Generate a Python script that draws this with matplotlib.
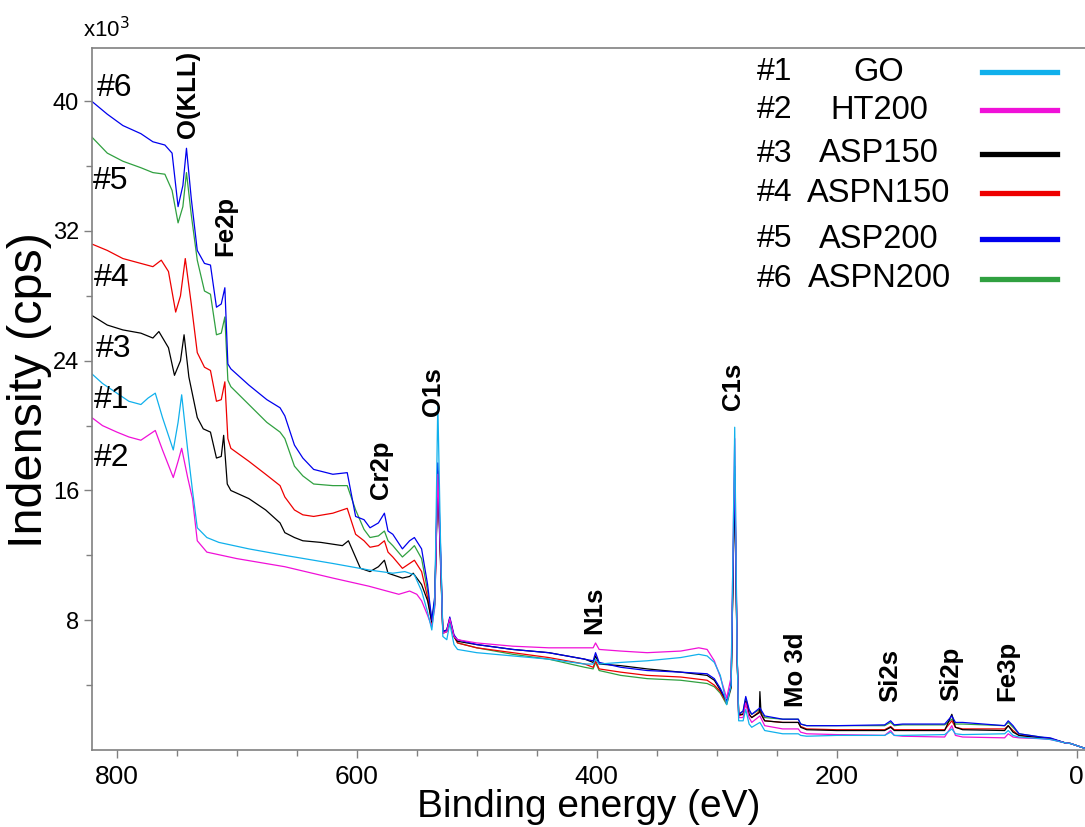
import matplotlib
matplotlib.use("Agg")
import matplotlib.pyplot as plt
from matplotlib.ticker import FixedLocator, MultipleLocator

plt.rcParams['font.family'] = ['Liberation Sans', 'DejaVu Sans']

# ---------------- data (binding energy in eV, intensity in 10^3 cps) ----------------
e_go = [821, 812, 800, 790, 780, 774, 768, 762, 753, 749, 746, 741, 737, 733, 725, 715, 690, 660, 620, 590,
        570, 560, 552, 546, 541, 537.5, 535, 532.5, 530, 528.3, 525, 522.5, 519, 516, 500, 470, 440, 410, 403,
        401, 398, 380, 358, 330, 315, 308, 302, 297, 291.7, 288, 285, 283, 281.7, 278, 275.8, 273, 270.8, 264,
        260, 245, 232, 230, 225, 200, 160, 155, 152, 145, 110, 104, 101, 95, 60, 57, 53, 48, 30, 22, 10, 5, -7]
i_go = [23.2, 22.6, 22.0, 21.5, 21.3, 21.7, 22.0, 20.5, 18.5, 20.2, 21.9, 18.5, 16.0, 13.7, 13.1, 12.8, 12.4,
        12.0, 11.5, 11.1, 10.9, 11.0, 10.8, 9.8, 8.5, 7.4, 9.0, 21.4, 12.0, 7.0, 6.8, 7.8, 6.5, 6.2, 6.0, 5.8,
        5.6, 5.3, 5.3, 5.6, 5.3, 5.4, 5.5, 5.7, 5.9, 5.8, 5.4, 4.6, 2.8, 4.0, 19.9, 6.0, 1.8, 1.8, 2.5, 1.6, 1.4,
        1.7, 1.2, 1.0, 1.0, 0.9, 0.85, 0.9, 0.9, 1.1, 0.9, 0.9, 0.95, 1.3, 1.0, 0.95, 1.0, 1.2, 0.9, 0.8, 0.7,
        0.65, 0.45, 0.4, 0.1]

e_ht200 = [821, 812, 800, 790, 780, 774, 768, 762, 753, 749, 746, 741, 737, 733, 725, 700, 660, 620, 590, 565,
           556, 550, 546, 541, 537.5, 535, 532.5, 530, 528.3, 525, 522.5, 519, 516, 500, 470, 440, 410, 403, 401,
           398, 380, 358, 330, 315, 308, 302, 297, 291.7, 288, 285, 283, 281.7, 278, 275.8, 273, 270.8, 264, 260,
           245, 232, 230, 225, 200, 160, 155, 152, 145, 110, 104, 101, 95, 60, 57, 53, 48, 30, 22, 10, 5, -7]
i_ht200 = [20.5, 20.0, 19.6, 19.3, 19.1, 19.4, 19.7, 18.5, 16.8, 17.8, 18.6, 16.8, 15.5, 12.9, 12.2, 11.8,
           11.3, 10.6, 10.1, 9.6, 9.8, 9.6, 9.2, 8.3, 7.6, 8.8, 17.0, 11.5, 7.2, 7.3, 8.1, 7.0, 6.8, 6.6, 6.4,
           6.3, 6.3, 6.3, 6.6, 6.2, 6.1, 6.0, 6.1, 6.3, 6.2, 5.5, 4.5, 3.2, 4.5, 19.2, 6.0, 2.0, 2.0, 2.9, 2.0,
           1.7, 2.1, 1.5, 1.3, 1.3, 1.1, 1.0, 0.95, 0.9, 1.2, 0.9, 0.85, 0.8, 1.5, 0.9, 0.8, 0.75, 1.0, 0.8,
           0.75, 0.7, 0.65, 0.45, 0.4, 0.1]

e_asp150 = [821, 808, 795, 780, 770, 765, 757, 752, 747, 744, 740, 733, 728, 722, 717, 713, 711, 708, 705, 690,
            676, 664, 660, 652, 645, 630, 612, 607, 597, 589, 582, 577, 574, 570, 562, 556, 553, 546, 541, 537.5,
            535, 532.5, 530, 528.3, 525, 522.5, 519, 516, 500, 470, 440, 410, 403, 401, 398, 380, 358, 330, 308,
            302, 297, 291.7, 288, 285, 283, 281.7, 278, 275.8, 273, 270.8, 264.5, 264, 263, 260, 245, 232, 230,
            225, 200, 160, 155, 152, 145, 110, 104, 101, 95, 60, 57, 53, 48, 30, 22, 10, 5, -7]
i_asp150 = [26.8, 26.2, 25.9, 25.7, 25.4, 25.8, 24.8, 23.1, 24.0, 25.6, 23.0, 20.5, 19.8, 19.6, 18.0, 18.1,
            19.4, 16.4, 16.0, 15.5, 14.8, 14.0, 13.4, 13.1, 12.9, 12.8, 12.6, 12.9, 11.2, 11.0, 11.3, 11.7, 10.9,
            10.8, 10.6, 10.7, 10.9, 10.2, 9.2, 7.9, 9.0, 16.8, 11.0, 7.3, 7.4, 8.1, 7.0, 6.7, 6.5, 6.2, 6.0, 5.6,
            5.4, 5.8, 5.3, 5.2, 5.0, 4.8, 4.6, 4.3, 3.7, 3.0, 3.9, 16.5, 5.8, 2.2, 2.2, 3.0, 2.2, 2.0, 2.3, 3.6,
            2.2, 1.8, 1.7, 1.7, 1.4, 1.25, 1.2, 1.2, 1.4, 1.2, 1.2, 1.2, 2.2, 1.4, 1.25, 1.2, 1.5, 1.1, 0.9, 0.75,
            0.7, 0.45, 0.4, 0.1]

e_aspn150 = [821, 808, 795, 780, 770, 763, 757, 751, 747, 743, 738, 733, 727, 722, 717, 713, 710, 707.5, 705,
             690, 676, 664, 660, 652, 645, 636, 620, 608, 601, 594, 589, 582, 577, 574, 570, 562, 556, 552, 546,
             541, 537.5, 535, 532.5, 530, 528.3, 525, 522.5, 519, 516, 500, 470, 440, 410, 403, 401, 398, 380,
             358, 330, 308, 302, 297, 291.7, 288, 285, 283, 281.7, 278, 275.8, 273, 270.8, 264, 260, 245, 232,
             230, 225, 200, 160, 155, 152, 145, 110, 104, 101, 95, 60, 57, 53, 48, 30, 22, 10, 5, -7]
i_aspn150 = [31.2, 30.8, 30.3, 30.0, 29.8, 30.2, 29.5, 27.0, 28.0, 30.3, 27.5, 24.5, 23.6, 23.4, 21.5, 21.6,
             22.7, 19.2, 18.6, 17.8, 17.0, 16.3, 15.6, 14.8, 14.5, 14.4, 14.6, 14.9, 13.3, 12.9, 12.5, 12.6, 12.9,
             12.2, 11.9, 11.2, 11.5, 11.7, 11.0, 9.4, 7.8, 9.2, 17.2, 11.3, 7.2, 7.3, 8.0, 7.0, 6.6, 6.3, 6.0, 5.7,
             5.3, 5.1, 5.5, 5.0, 4.8, 4.6, 4.5, 4.3, 4.0, 3.6, 2.9, 3.9, 17.0, 5.8, 2.1, 2.2, 3.0, 2.2, 2.0, 2.4,
             1.8, 1.7, 1.7, 1.45, 1.3, 1.25, 1.25, 1.45, 1.25, 1.25, 1.25, 1.8, 1.4, 1.3, 1.3, 1.5, 1.2, 0.9,
             0.75, 0.7, 0.45, 0.4, 0.1]

e_asp200 = [821, 808, 795, 780, 770, 760, 754, 749, 745, 742, 738, 733, 727, 722, 717, 713, 710, 707.5, 705,
            690, 675, 664, 660, 652, 645, 636, 620, 608, 601, 594, 589, 582, 577, 574, 570, 562, 556, 552, 546,
            541, 537.5, 535, 532.5, 530, 528.3, 525, 522.5, 519, 516, 500, 470, 440, 410, 403, 401, 398, 380, 358,
            330, 308, 302, 297, 291.7, 288, 285, 283, 281.7, 278, 275.8, 273, 270.8, 264, 260, 245, 232, 230, 225,
            200, 160, 155, 152, 145, 110, 104, 101, 95, 60, 57, 53, 48, 30, 22, 10, 5, -7]
i_asp200 = [40.0, 39.2, 38.5, 38.0, 37.5, 37.3, 36.8, 33.5, 34.8, 37.1, 34.0, 30.8, 30.0, 29.9, 27.3, 27.5,
            28.5, 23.8, 23.5, 22.5, 21.6, 21.1, 20.6, 18.8, 18.0, 17.3, 17.0, 17.1, 14.4, 14.2, 13.7, 14.0, 14.6,
            13.5, 13.3, 12.4, 12.9, 13.1, 12.4, 10.2, 8.0, 9.5, 17.7, 12.0, 7.3, 7.4, 8.2, 7.1, 6.8, 6.5, 6.2, 6.0,
            5.6, 5.5, 6.0, 5.4, 5.1, 4.9, 4.8, 4.7, 4.4, 3.8, 3.0, 4.0, 17.5, 6.0, 2.2, 2.4, 3.3, 2.5, 2.2, 2.6,
            2.1, 1.9, 1.9, 1.6, 1.5, 1.5, 1.55, 1.8, 1.55, 1.6, 1.6, 2.1, 1.7, 1.7, 1.5, 1.8, 1.5, 1.0, 0.8, 0.75,
            0.45, 0.4, 0.1]

e_aspn200 = e_asp200
i_aspn200 = [37.8, 36.8, 36.3, 35.9, 35.6, 35.5, 34.5, 32.5, 33.5, 35.6, 33.0, 30.2, 28.3, 28.1, 25.6, 25.7,
             26.7, 22.8, 22.4, 21.3, 20.2, 19.6, 19.2, 17.5, 16.9, 16.4, 16.3, 16.3, 14.8, 13.6, 13.1, 13.2, 13.5,
             12.9, 12.6, 11.9, 12.3, 12.6, 11.8, 9.8, 8.0, 9.3, 17.0, 11.5, 7.2, 7.3, 8.0, 7.0, 6.6, 6.3, 5.9, 5.6,
             5.1, 5.0, 5.4, 4.9, 4.6, 4.4, 4.3, 4.1, 3.9, 3.5, 2.8, 3.8, 17.0, 5.8, 2.2, 2.4, 3.2, 2.4, 2.2, 2.5,
             2.0, 1.9, 1.9, 1.6, 1.5, 1.5, 1.5, 1.7, 1.5, 1.55, 1.55, 1.9, 1.6, 1.6, 1.5, 1.7, 1.4, 1.0, 0.8, 0.7,
             0.45, 0.4, 0.1]

legend_ids = ["#1", "#2", "#3", "#4", "#5", "#6"]
legend_names = ["GO", "HT200", "ASP150", "ASPN150", "ASP200", "ASPN200"]

peak_labels = ["O(KLL)", "Fe2p", "Cr2p", "O1s", "C1s", "N1s", "Mo 3d", "Si2s", "Si2p", "Fe3p"]
peak_label_e = [740.8, 710.0, 580.0, 536.7, 286.7, 401.7, 234.2, 155.0, 104.2, 57.5]
peak_label_i = [40.4, 32.3, 17.3, 22.1, 22.4, 8.6, 4.94, 4.6, 4.7, 4.9]

curve_tags = ["#6", "#5", "#4", "#3", "#1", "#2"]
curve_tag_e = [801.7, 805.0, 804.0, 802.5, 804.0, 804.0]
curve_tag_i = [40.8, 35.1, 29.1, 24.75, 21.6, 18.0]

# ---------------- styling ----------------
W, H = 1085, 827
fig = plt.figure(figsize=(W / 100, H / 100), dpi=100)
ax = fig.add_axes([91.7 / W, 1 - 750 / H, (W - 91.7) / W, (750 - 47.7) / H])

c_go = '#10b0ec'
c_ht = '#f010d8'
c_asp150 = '#000000'
c_aspn150 = '#ee0000'
c_asp200 = '#0000ee'
c_aspn200 = '#30a040'
colors = [c_go, c_ht, c_asp150, c_aspn150, c_asp200, c_aspn200]

lw = 0.9
ax.plot(e_aspn200, i_aspn200, color=c_aspn200, lw=lw)
ax.plot(e_aspn150, i_aspn150, color=c_aspn150, lw=lw)
ax.plot(e_asp150, i_asp150, color=c_asp150, lw=lw)
ax.plot(e_asp200, i_asp200, color=c_asp200, lw=lw)
ax.plot(e_ht200, i_ht200, color=c_ht, lw=lw)
ax.plot(e_go, i_go, color=c_go, lw=lw)

ax.set_xlim(821, -7)
ax.set_ylim(0, 43.3)

ax.xaxis.set_major_locator(FixedLocator([800, 600, 400, 200, 0]))
ax.xaxis.set_minor_locator(MultipleLocator(50))
ax.yaxis.set_major_locator(FixedLocator([8, 16, 24, 32, 40]))
ax.yaxis.set_minor_locator(FixedLocator([4, 12, 20, 28, 36]))

spine_c = '#808080'
for s in ax.spines.values():
    s.set_color(spine_c)
    s.set_linewidth(1.2)
ax.spines['right'].set_visible(False)
ax.tick_params(axis='both', which='major', direction='out', length=6, width=1, color=spine_c)
ax.tick_params(axis='both', which='minor', direction='out', length=4, width=1, color=spine_c)
ax.tick_params(axis='x', labelsize=19, pad=5)
ax.tick_params(axis='y', labelsize=17, pad=3)

ax.set_xlabel("Binding energy (eV)", fontsize=28, labelpad=0)
fig.text(30 / W, 1 - 390 / H, "Indensity (cps)", fontsize=35, rotation=90,
         ha='center', va='center')

fig.text(83 / W, 1 - 37 / H, r"x10$^{3}$", fontsize=16, ha='left', va='baseline')

for txt, e, i in zip(peak_labels, peak_label_e, peak_label_i):
    ax.text(e, i, txt, rotation=90, ha='center', va='center', fontsize=18.5, fontweight='bold')

for txt, e, i in zip(curve_tags, curve_tag_e, curve_tag_i):
    ax.text(e, i, txt, ha='center', va='center', fontsize=23)

# legend drawn manually
row_y = [72.3, 110.3, 154.0, 193.3, 239.3, 278.7]
for k in range(6):
    yf = 1 - row_y[k] / H
    fig.text(757 / W, yf, legend_ids[k], fontsize=23, ha='left', va='center')
    fig.text(879 / W, yf, legend_names[k], fontsize=23.5, ha='center', va='center')
    fig.add_artist(plt.Line2D([982 / W, 1057 / W], [yf, yf], color=colors[k], lw=3.8,
                              transform=fig.transFigure))

fig.savefig("out.png", dpi=100)
